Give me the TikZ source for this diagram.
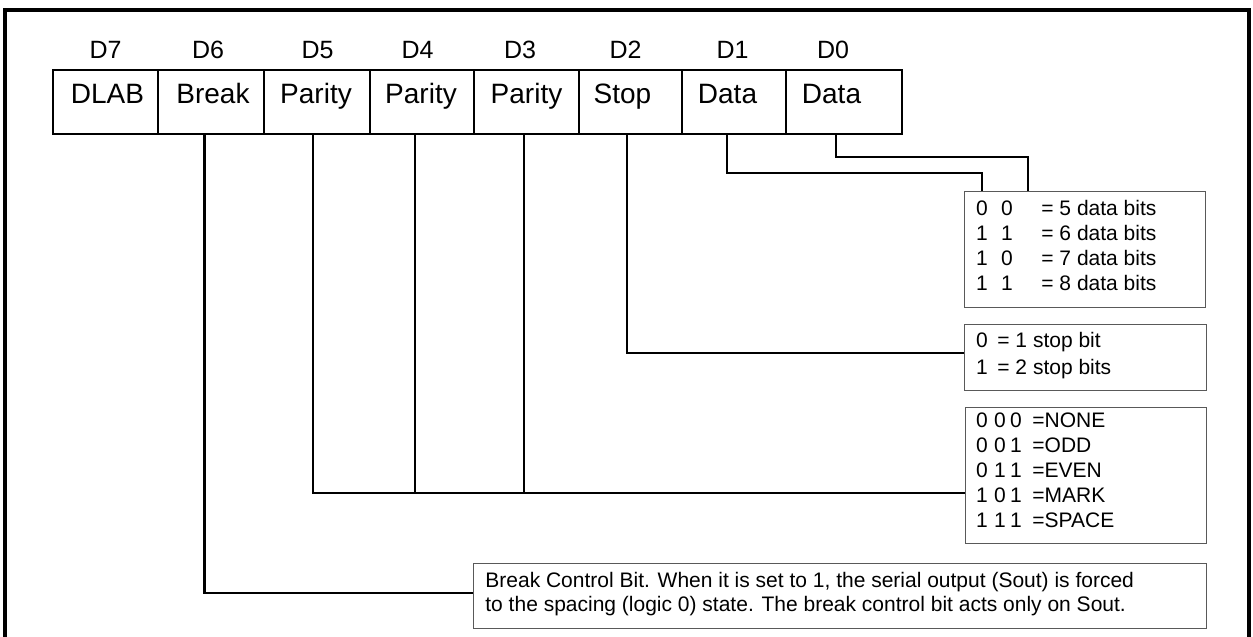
\documentclass[tikz,border=0pt]{standalone}
\usepackage{fontspec}
\setmainfont{Liberation Sans}
\begin{document}
\begin{tikzpicture}[x=0.5pt,y=-0.5pt,
  frame/.style={line width=1.75pt},
  cell/.style={draw,line width=1.2pt,anchor=north west,minimum height=32pt,inner sep=0pt},
  celltext/.style={anchor=base,inner sep=0pt,font=\fontsize{14}{16}\selectfont},
  bitlab/.style={anchor=base,inner sep=0pt,font=\fontsize{12.5}{14}\selectfont},
  conn/.style={line width=1.2pt},
  rbox/.style={draw=black!65,line width=0.5pt,anchor=north west,inner sep=0pt},
  rtxt/.style={anchor=base west,inner sep=0pt,font=\fontsize{10.5}{12}\selectfont},
  rdig/.style={anchor=base,inner sep=0pt,font=\fontsize{10.5}{12}\selectfont}]
\useasboundingbox (0,0) rectangle (1253,637);
\fill[white] (0,0) rectangle (1253,637);
% outer frame
\draw[frame] (5,637) -- (5,10) -- (1249,10) -- (1249,637);

% register cells
\node[cell,minimum width=52.5pt] (c7) at (52,69) {};
\node[cell,minimum width=53pt]   (c6) at (157,69) {};
\node[cell,minimum width=53pt]   (c5) at (263,69) {};
\node[cell,minimum width=52pt]   (c4) at (369,69) {};
\node[cell,minimum width=52.5pt] (c3) at (473,69) {};
\node[cell,minimum width=51.5pt] (c2) at (578,69) {};
\node[cell,minimum width=52pt]   (c1) at (681,69) {};
\node[cell,minimum width=58pt]   (c0) at (785,69) {};

\node[celltext] (t7) at (107.5,103) {DLAB};
\node[celltext] (t6) at (213,103) {Break};
\node[celltext] (t5) at (316,103) {Parity};
\node[celltext] (t4) at (421,103) {Parity};
\node[celltext] (t3) at (526.5,103) {Parity};
\node[celltext] (t2) at (622.5,103) {Stop};
\node[celltext] (t1) at (727.5,103) {Data};
\node[celltext] (t0) at (831.5,103) {Data};

\node[bitlab] (l7) at (105.5,58) {D7};
\node[bitlab] (l6) at (208,58) {D6};
\node[bitlab] (l5) at (317.5,58) {D5};
\node[bitlab] (l4) at (417.5,58) {D4};
\node[bitlab] (l3) at (520,58) {D3};
\node[bitlab] (l2) at (625.5,58) {D2};
\node[bitlab] (l1) at (732.5,58) {D1};
\node[bitlab] (l0) at (833,58) {D0};

% right-side boxes
\node[rbox,minimum width=120.5pt,minimum height=58pt] (data) at (964,191) {};
\node[rbox,minimum width=121pt,minimum height=33pt]   (stop) at (964,324) {};
\node[rbox,minimum width=120.5pt,minimum height=68pt] (par)  at (965,407) {};
\node[rbox,minimum width=366.5pt,minimum height=32.5pt] (brk) at (473,563) {};

% data box text
\node[rdig] (da1) at (982,215) {0};  \node[rdig] (da2) at (1007,215) {0};  \node[rtxt] (da3) at (1041,215) {= 5 data bits};
\node[rdig] (db1) at (982,240.5) {1};\node[rdig] (db2) at (1007,240.5) {1};\node[rtxt] (db3) at (1041,240.5) {= 6 data bits};
\node[rdig] (dc1) at (982,265.5) {1};\node[rdig] (dc2) at (1007,265.5) {0};\node[rtxt] (dc3) at (1041,265.5) {= 7 data bits};
\node[rdig] (dd1) at (982,290.5) {1};\node[rdig] (dd2) at (1007,290.5) {1};\node[rtxt] (dd3) at (1041,290.5) {= 8 data bits};

% stop box text
\node[rdig] (sa1) at (982,347) {0}; \node[rtxt] (sa2) at (997,347) {= 1 stop bit};
\node[rdig] (sb1) at (982,374) {1}; \node[rtxt] (sb2) at (997,374) {= 2 stop bits};

% parity box text
\node[rdig] (pa1) at (982,427) {0};\node[rdig] (pa2) at (1000,427) {0};\node[rdig] (pa3) at (1016,427) {0};\node[rtxt] (pa4) at (1032,427) {=NONE};
\node[rdig] (pb1) at (982,452) {0};\node[rdig] (pb2) at (1000,452) {0};\node[rdig] (pb3) at (1016,452) {1};\node[rtxt] (pb4) at (1032,452) {=ODD};
\node[rdig] (pc1) at (982,477) {0};\node[rdig] (pc2) at (1000,477) {1};\node[rdig] (pc3) at (1016,477) {1};\node[rtxt] (pc4) at (1032,477) {=EVEN};
\node[rdig] (pd1) at (982,502) {1};\node[rdig] (pd2) at (1000,502) {0};\node[rdig] (pd3) at (1016,502) {1};\node[rtxt] (pd4) at (1032,502) {=MARK};
\node[rdig] (pe1) at (982,527) {1};\node[rdig] (pe2) at (1000,527) {1};\node[rdig] (pe3) at (1016,527) {1};\node[rtxt] (pe4) at (1032,527) {=SPACE};

% break box text
\node[rtxt] (bt1) at (485,587) {Break Control Bit. When it is set to 1, the serial output (Sout) is forced};
\node[rtxt] (bt2) at (485,611) {to the spacing (logic 0) state. The break control bit acts only on Sout.};

% connector helpers
\coordinate (x6) at (204.5,0);
\coordinate (x5) at (313,0);
\coordinate (x4) at (415,0);
\coordinate (x3) at (524,0);
\coordinate (x2) at (627,0);
\coordinate (x1) at (727,0);
\coordinate (x0) at (836,0);
\coordinate (k0) at (1028,157);
\coordinate (k1) at (982,173);
\coordinate (k2) at (0,353);
\coordinate (k5) at (0,493);
\coordinate (k6) at (0,593);

% connectors
\draw[conn] (c0.south -| x0) |- (k0) -- (k0 |- data.north);
\draw[conn] (c1.south -| x1) |- (k1) -- (k1 |- data.north);
\draw[conn] (c2.south -| x2) |- (stop.west |- k2);
\draw[conn] (c5.south -| x5) |- (par.west |- k5);
\draw[conn] (c4.south -| x4) -- (x4 |- k5);
\draw[conn] (c3.south -| x3) -- (x3 |- k5);
\draw[conn] (c6.south -| x6) |- (brk.west |- k6);
\end{tikzpicture}
\end{document}
